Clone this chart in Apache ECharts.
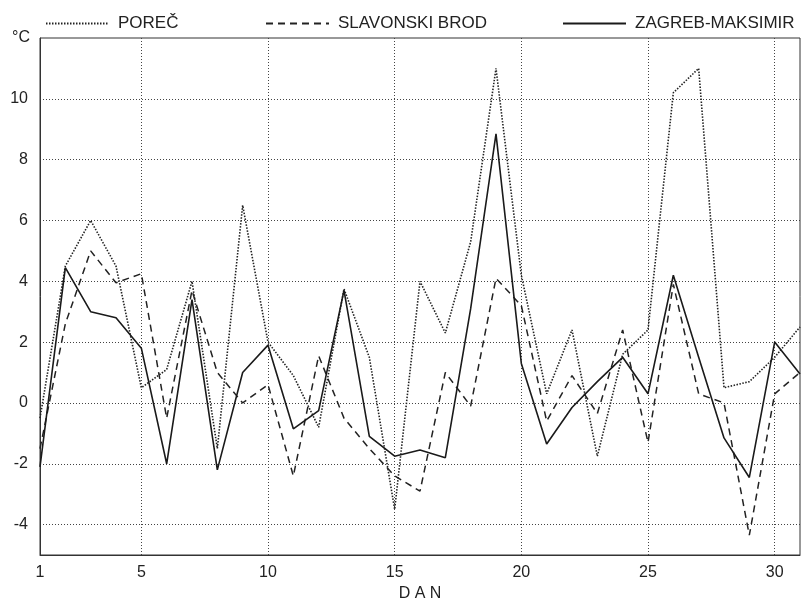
<!DOCTYPE html>
<html>
<head>
<meta charset="utf-8">
<script src="https://cdn.jsdelivr.net/npm/echarts@6/dist/echarts.min.js"></script>
<style>
  html, body { margin: 0; padding: 0; background: #fff; }
  #chart { width: 801px; height: 601px; }
</style>
</head>
<body>
<div id="chart"></div>
<script>
// days of the month
const days = [];
for (let d = 1; d <= 31; d++) days.push(String(d));

const xTickLabels = ['1', '5', '10', '15', '20', '25', '30'];
const yTickLabels = [-4, -2, 0, 2, 4, 6, 8, 10];

const porec = [-0.5, 4.5, 6.0, 4.5, 0.5, 1.1, 4.0, -1.5, 6.5, 2.0,
  0.9, -0.8, 3.75, 1.5, -3.5, 4.0, 2.3, 5.3, 11.0, 4.2,
  0.3, 2.4, -1.75, 1.6, 2.4, 10.2, 11.0, 0.5, 0.7, 1.5, 2.5];

const slavonskiBrod = [-1.5, 2.6, 5.0, 3.95, 4.25, -0.5, 3.7, 1.0, 0.0, 0.6,
  -2.4, 1.55, -0.5, -1.5, -2.4, -2.9, 1.0, -0.1, 4.1, 3.2,
  -0.6, 0.9, -0.35, 2.4, -1.3, 3.9, 0.3, 0.0, -4.35, 0.3, 1.0];

const zagreb = [-2.1, 4.45, 3.0, 2.8, 1.8, -2.0, 3.4, -2.2, 1.0, 1.9,
  -0.85, -0.25, 3.7, -1.1, -1.75, -1.55, -1.8, 3.1, 8.85, 1.3,
  -1.35, -0.15, 0.7, 1.5, 0.3, 4.2, 1.5, -1.15, -2.45, 2.0, 0.95];

const chart = echarts.init(document.getElementById('chart'));

const textColor = '#222';
const font = 'Liberation Sans, Arial, sans-serif';
const legendBase = {
  top: 10, itemWidth: 63, itemHeight: 16,
  itemStyle: { opacity: 0, borderWidth: 0 },
  textStyle: { fontSize: 17, color: textColor, fontFamily: font, padding: [0, 0, 0, 4] }
};

let option = {
  backgroundColor: '#fff',
  animation: false,
  textStyle: { fontFamily: font, color: textColor },
  legend: [
    Object.assign({ data: ['POREČ'], left: 40 }, legendBase),
    Object.assign({ data: ['SLAVONSKI BROD'], left: 260 }, legendBase),
    Object.assign({ data: ['ZAGREB-MAKSIMIR'], left: 557 }, legendBase)
  ],
  grid: {
    left: 40, right: 1, top: 38, bottom: 46,
    outerBoundsMode: 'none',
    containLabel: false,
    show: true, borderColor: '#333', borderWidth: 1
  },
  xAxis: {
    type: 'category',
    data: days,
    boundaryGap: false,
    name: 'D A N',
    nameLocation: 'middle',
    nameGap: 29,
    nameTextStyle: { fontSize: 16, color: textColor, fontFamily: font },
    axisLine: { onZero: false, lineStyle: { color: '#333', width: 1 } },
    axisTick: { show: false },
    axisLabel: {
      fontSize: 16, color: textColor, margin: 10,
      interval: (i, v) => xTickLabels.includes(v)
    },
    splitLine: {
      show: true,
      interval: (i, v) => i > 0 && i < 30 && xTickLabels.includes(v),
      lineStyle: { type: [1, 2], color: '#444', width: 1 }
    }
  },
  yAxis: {
    type: 'value',
    min: -5,
    max: 12,
    name: '°C',
    nameLocation: 'end',
    nameGap: 0,
    nameTextStyle: { fontSize: 16, color: textColor, fontFamily: font, align: 'right', verticalAlign: 'middle', padding: [0, 10, 0, 0] },
    axisLine: { show: true, lineStyle: { color: '#333', width: 1 } },
    axisTick: { show: false, customValues: yTickLabels },
    axisLabel: {
      fontSize: 16, color: textColor, margin: 12,
      customValues: yTickLabels
    },
    splitLine: {
      lineStyle: { type: [1, 2], color: '#444', width: 1 }
    }
  },
  series: [
    {
      name: 'POREČ', type: 'line', data: porec, symbol: 'none',
      lineStyle: { color: '#222', width: 1.6, type: [1.5, 1.5] },
      itemStyle: { color: '#222' }
    },
    {
      name: 'SLAVONSKI BROD', type: 'line', data: slavonskiBrod, symbol: 'none',
      lineStyle: { color: '#222', width: 1.5, type: [7, 5] },
      itemStyle: { color: '#222' }
    },
    {
      name: 'ZAGREB-MAKSIMIR', type: 'line', data: zagreb, symbol: 'none',
      lineStyle: { color: '#1a1a1a', width: 1.6, type: 'solid' },
      itemStyle: { color: '#1a1a1a' }
    }
  ]
};

option && chart.setOption(option);
</script>
</body>
</html>
